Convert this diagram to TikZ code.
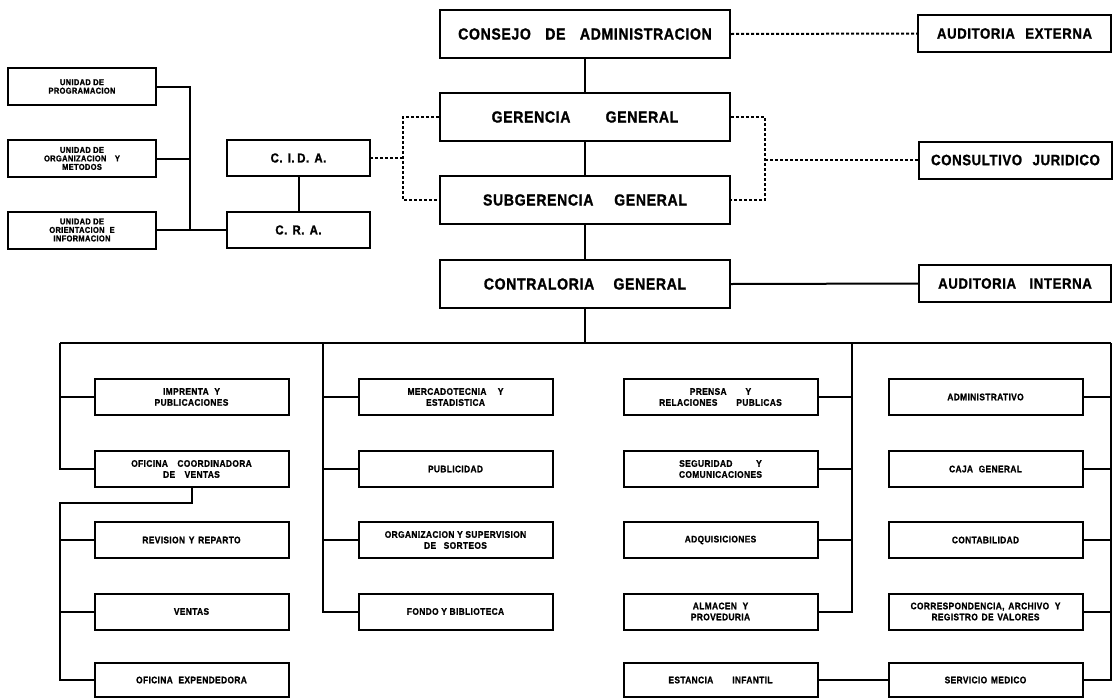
\documentclass[tikz,border=0pt]{standalone}
\usepackage{fontspec}
\setmainfont{Liberation Sans}
\newfontfamily\orgfont{Liberation Sans Bold}[FakeStretch=0.88,LetterSpace=4,FakeBold=1.2]
\begin{document}
\begin{tikzpicture}[x=1pt,y=-1pt,
  box/.style={draw,line width=2pt,inner sep=0pt,align=center,font=\orgfont\fontsize{9.5}{11}\selectfont},
  topbox/.style={box,minimum width=290,minimum height=48,font=\orgfont\fontsize{16}{18}\selectfont},
  sidebox/.style={box,minimum width=193,minimum height=37,font=\orgfont\fontsize{15}{17}\selectfont},
  unitbox/.style={box,minimum width=148,minimum height=37,font=\orgfont\fontsize{8.5}{8.5}\selectfont},
  cbox/.style={box,minimum width=143,minimum height=36,font=\orgfont\fontsize{13}{15}\selectfont},
  dbox/.style={box,minimum width=194,minimum height=36},
  conn/.style={line width=2pt},
  dots/.style={line width=2pt,dash pattern=on 3pt off 2pt}]
\useasboundingbox (0,0) rectangle (1113,699);
% top hierarchy
\node[topbox] (consejo) at (585,34) {CONSEJO\hspace{0.9em}DE\hspace{0.9em}ADMINISTRACION};
\node[topbox] (gerencia) at (585,117) {GERENCIA\hspace{2.2em}GENERAL};
\node[topbox] (subger) at (585,200) {SUBGERENCIA\hspace{1.3em}GENERAL};
\node[topbox] (contra) at (585,284) {CONTRALORIA\hspace{1.2em}GENERAL};
% side boxes
\node[sidebox] (ext) at (1014.5,33.5) {AUDITORIA\hspace{0.7em}EXTERNA};
\node[sidebox] (consul) at (1015.5,160) {CONSULTIVO\hspace{0.7em}JURIDICO};
\node[sidebox,minimum width=192] (inter) at (1015,283.5) {AUDITORIA\hspace{0.9em}INTERNA};
% left group
\node[unitbox] (prog) at (82,86.5) {UNIDAD DE\\PROGRAMACION};
\node[unitbox] (orgm) at (82,158.5) {UNIDAD DE\\ORGANIZACION\hspace{1em}Y\\METODOS};
\node[unitbox] (orie) at (82,230) {UNIDAD DE\\ORIENTACION\hspace{0.6em}E\\INFORMACION};
\node[cbox] (cida) at (298.5,158) {C.\hspace{0.4em}I.\hspace{0.2em}D.\hspace{0.4em}A.};
\node[cbox] (cra) at (298.5,230) {C.\hspace{0.4em}R.\hspace{0.4em}A.};
% column 1
\node[dbox] (impr) at (191.5,397) {IMPRENTA\hspace{0.6em}Y\\PUBLICACIONES};
\node[dbox] (coord) at (191.5,469) {OFICINA\hspace{1em}COORDINADORA\\DE\hspace{1em}VENTAS};
\node[dbox] (revi) at (191.5,540) {REVISION\hspace{0.4em}Y\hspace{0.4em}REPARTO};
\node[dbox] (vent) at (191.5,611.5) {VENTAS};
\node[dbox,minimum height=34] (expe) at (191.5,680) {OFICINA\hspace{0.6em}EXPENDEDORA};
% column 2
\node[dbox] (merc) at (455.5,397) {MERCADOTECNIA\hspace{1.2em}Y\\ESTADISTICA};
\node[dbox] (publ) at (455.5,469) {PUBLICIDAD};
\node[dbox] (sort) at (455.5,540) {ORGANIZACION Y SUPERVISION\\DE\hspace{0.8em}SORTEOS};
\node[dbox] (fond) at (455.5,611.5) {FONDO Y BIBLIOTECA};
% column 3
\node[dbox] (pren) at (720.5,397) {PRENSA\hspace{2em}Y\\RELACIONES\hspace{2em}PUBLICAS};
\node[dbox] (segu) at (720.5,469) {SEGURIDAD\hspace{2.5em}Y\\COMUNICACIONES};
\node[dbox] (adqu) at (720.5,540) {ADQUISICIONES};
\node[dbox] (alma) at (720.5,611.5) {ALMACEN\hspace{0.6em}Y\\PROVEDURIA};
\node[dbox,minimum height=34] (esta) at (720.5,680) {ESTANCIA\hspace{2em}INFANTIL};
% column 4
\node[dbox] (admi) at (985.5,397) {ADMINISTRATIVO};
\node[dbox] (caja) at (985.5,469) {CAJA\hspace{0.6em}GENERAL};
\node[dbox] (cont) at (985.5,540) {CONTABILIDAD};
\node[dbox] (corr) at (985.5,611.5) {CORRESPONDENCIA,\hspace{0.4em}ARCHIVO\hspace{0.6em}Y\\REGISTRO\hspace{0.4em}DE\hspace{0.4em}VALORES};
\node[dbox,minimum height=34] (serv) at (985.5,680) {SERVICIO\hspace{0.4em}MEDICO};
% coordinates
\coordinate (lb) at (403,158);
\coordinate (rb) at (765,160);
\coordinate (lv) at (190,229);
\coordinate (bar) at (585,343);
\coordinate (barL) at (60,343);
\coordinate (barR) at (1111,343);
\coordinate (v2) at (323,343);
\coordinate (v3) at (852,343);
\coordinate (c1) at (60,503);
% top connectors
\draw[conn] (consejo) -- (gerencia);
\draw[conn] (gerencia) -- (subger);
\draw[conn] (subger) -- (contra);
\draw[conn] (contra.east) -- (inter.west);
\draw[dots] (consejo.east) -- (ext.west);
\draw[dots] (gerencia.west) -| (lb) |- (subger.west);
\draw[dots] (lb) -- (cida.east);
\draw[dots] (gerencia.east) -| (rb) |- (subger.east);
\draw[dots] (rb) -- (consul.west);
% left group connectors
\draw[conn] (prog.east) -| (lv);
\draw[conn] (orgm.east) -- (orgm.east -| lv);
\draw[conn] (orie.east) -- (cra.west);
\draw[conn] (cida) -- (cra);
% bottom bar
\draw[conn] (contra.south) -- (bar);
\draw[conn] (barL) -- (barR);
% column 1
\draw[conn] (barL) |- (coord.west);
\draw[conn] (impr.west) -- (impr.west -| barL);
\draw[conn] (coord.south) |- (c1) |- (expe.west);
\draw[conn] (revi.west) -- (revi.west -| c1);
\draw[conn] (vent.west) -- (vent.west -| c1);
% column 2
\draw[conn] (v2) |- (fond.west);
\draw[conn] (merc.west) -- (merc.west -| v2);
\draw[conn] (publ.west) -- (publ.west -| v2);
\draw[conn] (sort.west) -- (sort.west -| v2);
% column 3
\draw[conn] (v3) |- (alma.east);
\draw[conn] (pren.east) -- (pren.east -| v3);
\draw[conn] (segu.east) -- (segu.east -| v3);
\draw[conn] (adqu.east) -- (adqu.east -| v3);
% column 4
\draw[conn] (barR) |- (serv.east);
\draw[conn] (admi.east) -- (admi.east -| barR);
\draw[conn] (caja.east) -- (caja.east -| barR);
\draw[conn] (cont.east) -- (cont.east -| barR);
\draw[conn] (corr.east) -- (corr.east -| barR);
\draw[conn] (esta.east) -- (serv.west);
\end{tikzpicture}
\end{document}
